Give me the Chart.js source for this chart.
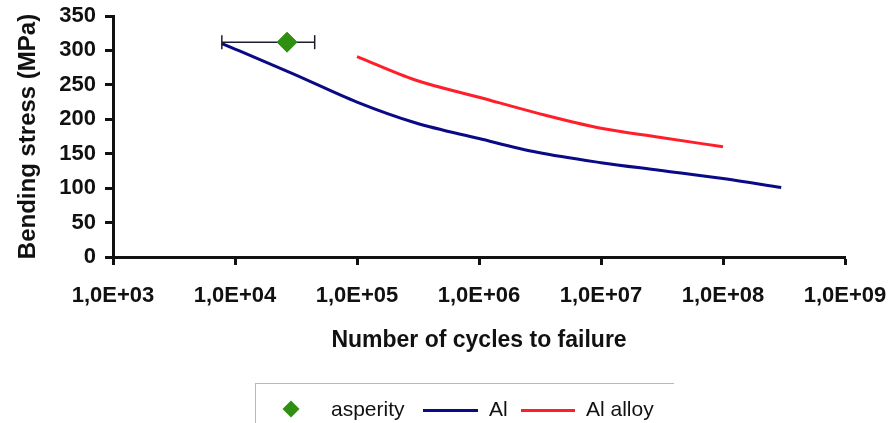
<!DOCTYPE html>
<html>
<head>
<meta charset="utf-8">
<script src="https://cdn.jsdelivr.net/npm/chart.js@4/dist/chart.umd.min.js"></script>
<style>
  html, body { margin: 0; padding: 0; background: #fff; }
  #wrap { position: relative; width: 894px; height: 423px; overflow: hidden; font-family: "Liberation Sans", Arial, sans-serif; }
  #chart { position: absolute; left: 0; top: 0; }
  #legend { position: absolute; left: 255px; top: 383px; width: 418px; height: 60px;
            border-top: 1px solid #b8b8b8; border-left: 1px solid #b8b8b8; }
  .lg { position: absolute; }
  .txt { font-size: 21px; color: #111; line-height: 24px; top: 13px; }
  .swatch { height: 3px; top: 25px; }
  .dia { width: 12px; height: 12px; top: 19px; left: 29px; transform: rotate(45deg); }
</style>
</head>
<body>
<div id="wrap">
  <canvas id="chart" width="894" height="423"></canvas>
  <div id="legend"></div>
</div>
<script>
// x ticks (log scale, powers of ten)
const xTickValues = [1e3, 1e4, 1e5, 1e6, 1e7, 1e8, 1e9];
const xTickLabels = ['1,0E+03', '1,0E+04', '1,0E+05', '1,0E+06', '1,0E+07', '1,0E+08', '1,0E+09'];

// Al
const alCycles = [7.8e3, 1e4, 3e4, 1e5, 3e5, 1e6, 3e6, 1e7, 3e7, 1e8, 3e8];
const alStress = [310, 302, 266, 225, 195, 172, 152, 137, 126, 114, 101];

// Al alloy
const alloyCycles = [1e5, 3e5, 1e6, 3e6, 1e7, 3e7, 1e8];
const alloyStress = [291, 257, 232, 209, 187, 174, 160];

// asperity (with horizontal error bar)
const asperityCycles = [2.67e4];
const asperityStress = [312];
const asperityLow = [7.8e3];
const asperityHigh = [4.5e4];

const BLUE = '#0a0a86';
const RED = '#ff1f2b';
const GREEN = '#2f8f10';

const toPts = (xs, ys) => xs.map((x, i) => ({ x: x, y: ys[i] }));

const errPts = [
  { x: asperityLow[0], y: asperityStress[0] },
  { x: asperityHigh[0], y: asperityStress[0] }
];

const FONT = '"Liberation Sans", Arial, sans-serif';

new Chart(document.getElementById('chart'), {
  type: 'line',
  data: {
    datasets: [
      {
        label: 'asperity',
        data: toPts(asperityCycles, asperityStress),
        showLine: false,
        pointStyle: 'rectRot',
        pointRadius: 10,
        pointBackgroundColor: GREEN,
        pointBorderColor: GREEN,
        pointBorderWidth: 1,
        order: 0
      },
      {
        label: 'err',
        data: errPts,
        borderColor: '#1c1c2c',
        borderWidth: 1.5,
        pointStyle: 'line',
        pointRotation: 90,
        pointRadius: 7,
        pointBorderWidth: 1.5,
        pointBorderColor: '#1c1c2c',
        order: 1
      },
      {
        label: 'Al',
        data: toPts(alCycles, alStress),
        borderColor: BLUE,
        borderWidth: 3,
        pointRadius: 0,
        cubicInterpolationMode: 'monotone',
        order: 2
      },
      {
        label: 'Al alloy',
        data: toPts(alloyCycles, alloyStress),
        borderColor: RED,
        borderWidth: 3,
        pointRadius: 0,
        cubicInterpolationMode: 'monotone',
        order: 3
      }
    ]
  },
  options: {
    responsive: false,
    animation: false,
    layout: { padding: { left: 0, top: 16, right: 49, bottom: 69 } },
    plugins: { legend: { display: false }, tooltip: { enabled: false } },
    scales: {
      x: {
        type: 'logarithmic',
        min: 1e3,
        max: 1e9,
        afterBuildTicks: (scale) => { scale.ticks = xTickValues.map(v => ({ value: v })); },
        afterFit: (scale) => {
          scale.height = 97;
          scale.paddingLeft = 0;
          scale.paddingRight = 0;
        },
        ticks: {
          autoSkip: false,
          maxRotation: 0,
          padding: 18,
          color: '#111',
          font: { family: FONT, size: 22, weight: 'bold' },
          callback: (value, index) => xTickLabels[index]
        },
        grid: { drawOnChartArea: false, tickLength: 8, tickWidth: 3, tickColor: '#111' },
        border: { color: '#111', width: 3 },
        title: {
          display: true,
          text: 'Number of cycles to failure',
          color: '#111',
          padding: { top: 0, bottom: 0 },
          font: { family: FONT, size: 23, weight: 'bold' }
        }
      },
      y: {
        min: 0,
        max: 350,
        afterFit: (scale) => {
          scale.width = 113;
          scale.paddingTop = 0;
          scale.paddingBottom = 0;
        },
        ticks: {
          stepSize: 50,
          padding: 9,
          color: '#111',
          font: { family: FONT, size: 22, weight: 'bold' }
        },
        grid: { drawOnChartArea: false, tickLength: 8, tickWidth: 3, tickColor: '#111' },
        border: { color: '#111', width: 3 },
        title: {
          display: true,
          text: 'Bending stress (MPa)',
          color: '#111',
          padding: { top: 14, bottom: 0 },
          font: { family: FONT, size: 24, weight: 'bold' }
        }
      }
    }
  }
});

// legend below the plot
const legend = document.getElementById('legend');
legend.innerHTML = `
  <div class="lg dia" style="background:${GREEN}"></div>
  <div class="lg txt" style="left:75px">asperity</div>
  <div class="lg swatch" style="left:167px;width:55px;background:${BLUE}"></div>
  <div class="lg txt" style="left:233px">Al</div>
  <div class="lg swatch" style="left:265px;width:54px;background:${RED}"></div>
  <div class="lg txt" style="left:330px">Al alloy</div>
`;
</script>
</body>
</html>
